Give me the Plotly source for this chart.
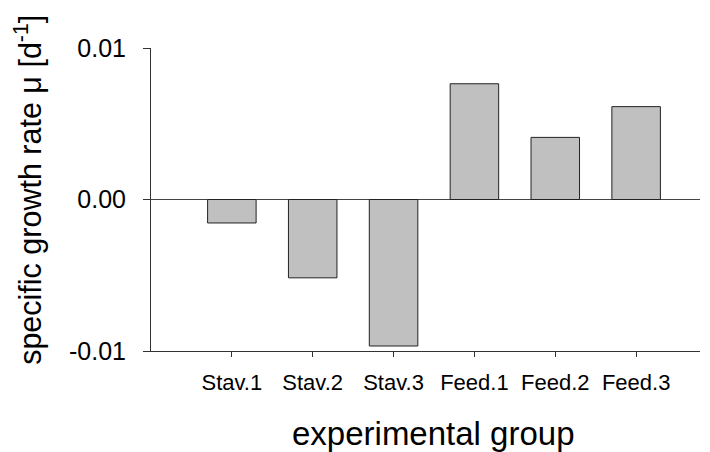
import plotly.graph_objects as go

groups = ["Stav.1", "Stav.2", "Stav.3", "Feed.1", "Feed.2", "Feed.3"]
growth_rate = [-0.00155, -0.00517, -0.00967, 0.00764, 0.0041, 0.00613]
y_tick_vals = [-0.01, 0.0, 0.01]
y_tick_text = ["-0.01", "0.00", "0.01"]

FONT = "Liberation Sans, Arial, sans-serif"

fig = go.Figure()
fig.add_trace(go.Bar(
    x=groups,
    y=growth_rate,
    width=0.6,
    marker=dict(color="#c0c0c0", line=dict(color="#222222", width=1)),
))

fig.update_layout(
    width=710, height=452,
    margin=dict(l=143, r=18, t=40, b=109),
    paper_bgcolor="white", plot_bgcolor="white",
    showlegend=False,
    font=dict(family=FONT, color="black"),
    xaxis=dict(
        type="category",
        range=[-1, 5.79],
        showline=True, linecolor="#333333", linewidth=1,
        ticks="outside", ticklen=5, tickcolor="#333333",
        tickfont=dict(size=22, family=FONT),
        ticklabelstandoff=7,
        showgrid=False, zeroline=False,
    ),
    yaxis=dict(
        range=[-0.01, 0.01],
        tickvals=y_tick_vals, ticktext=y_tick_text,
        showline=True, linecolor="#333333", linewidth=1,
        ticks="outside", ticklen=7, tickcolor="#333333",
        tickfont=dict(size=25, family=FONT),
        ticklabelstandoff=12,
        showgrid=True, gridcolor="#333333", gridwidth=1,
        zeroline=True, zerolinecolor="#444444", zerolinewidth=1,
    ),
    annotations=[
        dict(text="specific growth rate μ [d<sup>-1</sup>]",
             xref="paper", yref="paper", x=-0.2234, y=0.533,
             xanchor="center", yanchor="middle", textangle=-90,
             showarrow=False, font=dict(size=30.5, family=FONT)),
        dict(text="experimental group",
             xref="paper", yref="paper", x=0.515, y=-0.271,
             xanchor="center", yanchor="middle",
             showarrow=False, font=dict(size=33, family=FONT)),
    ],
)

fig.write_html("out.html")
